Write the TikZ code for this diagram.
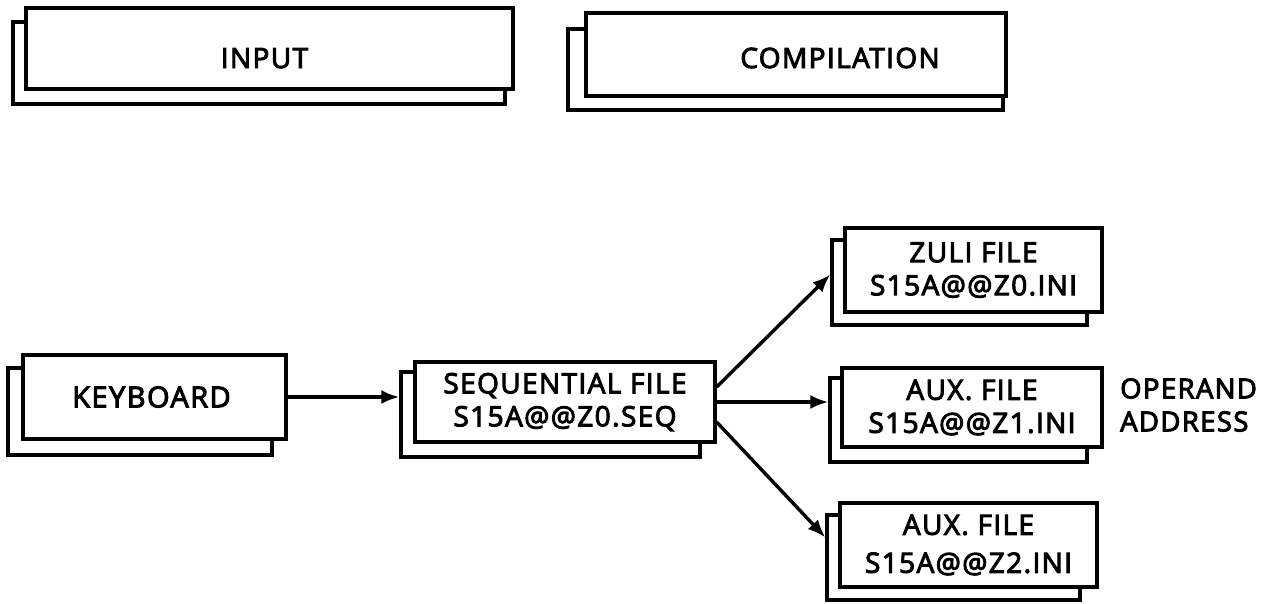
\documentclass[tikz,border=0pt]{standalone}
\usepackage{fontspec}
\setmainfont[LetterSpace=5,FakeBold=3.5]{Open Sans}
\usetikzlibrary{arrows.meta,calc}
\begin{document}
\begin{tikzpicture}[x=1pt,y=-1pt,
  back/.style={draw,line width=3.2pt,fill=white,inner sep=0pt},
  front/.style={draw,line width=3.2pt,fill=white,inner sep=0pt,align=center,font=\fontsize{28}{33}\selectfont},
  arr/.style={line width=3.4pt,-{Latex[length=18pt,width=14pt]}}]
\useasboundingbox[fill=white] (0,0) rectangle (1283,603);
% INPUT
\node[back,minimum width=492pt,minimum height=82pt] (inputb) at (259,63) {};
\node[front,minimum width=487pt,minimum height=81pt,text height=39pt,text depth=0pt] (input) at (269.5,48.5) {INPUT\hspace*{10pt}};
% COMPILATION
\node[back,minimum width=435pt,minimum height=81pt] (compb) at (785.5,69.5) {};
\node[front,minimum width=420pt,minimum height=83pt,text height=27pt,text depth=0pt] (comp) at (796,54.5) {\hspace*{88pt}COMPILATION};
% KEYBOARD
\node[back,minimum width=264pt,minimum height=87pt] (keyb) at (140,411.5) {};
\node[front,minimum width=263pt,minimum height=84pt,font=\fontsize{29}{33}\selectfont] (key) at (154.5,397) {KEYBOARD\hspace*{6pt}};
% SEQUENTIAL
\node[back,minimum width=299pt,minimum height=85pt] (seqb) at (550.5,414.5) {};
\node[front,minimum width=300pt,minimum height=80pt] (seq) at (565,402) {SEQUENTIAL FILE\\S15A@@Z0.SEQ};
% ZULI
\node[back,minimum width=255pt,minimum height=85pt] (zulib) at (959.5,282.5) {};
\node[front,minimum width=257pt,minimum height=84pt] (zuli) at (973.5,270) {ZULI FILE\\S15A@@Z0.INI};
% AUX1
\node[back,minimum width=257pt,minimum height=84pt] (auxab) at (958.5,420) {};
\node[front,minimum width=260pt,minimum height=79pt] (auxa) at (972,407.5) {AUX. FILE\\S15A@@Z1.INI};
% AUX2
\node[back,minimum width=253pt,minimum height=85pt] (auxbb) at (953.5,557.5) {};
\node[front,minimum width=257pt,minimum height=84pt,font=\fontsize{28}{38}\selectfont] (auxb) at (968.5,545) {AUX. FILE\\S15A@@Z2.INI};
% label
\node[anchor=west,align=left,inner sep=0pt,font=\fontsize{27.5}{33}\selectfont] (oper) at (1120,405) {OPERAND\\ADDRESS};
% arrows
\draw[arr] (key.east) -- (key.east -| seqb.west);
\draw[arr] ($(seq.east)+(0,-15)$) -- ($(zulib.west)+(0,-8)$);
\draw[arr] (seq.east) -- (seq.east -| auxab.west);
\draw[arr] ($(seq.east)+(0,20)$) -- ($(auxbb.west)+(0,-20)$);
\end{tikzpicture}
\end{document}
